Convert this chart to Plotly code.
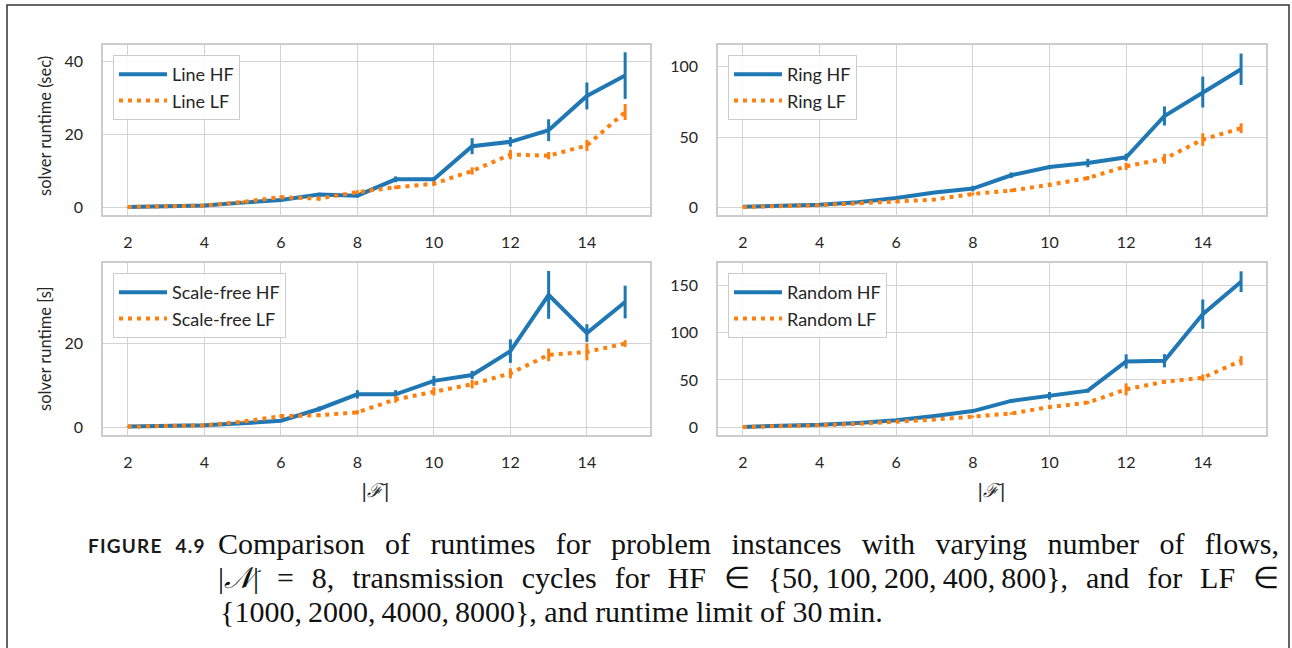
import plotly.graph_objects as go

flows = list(range(2, 16))
x_ticks = [2, 4, 6, 8, 10, 12, 14]

# Line topology
line_hf = [0.1, 0.3, 0.5, 1.3, 2.0, 3.5, 3.2, 7.7, 7.7, 16.8, 18.0, 21.2, 30.6, 36.2]
line_hf_err = [0.05, 0.1, 0.15, 0.3, 0.3, 0.5, 0.5, 0.8, 0.6, 2.2, 1.3, 3.0, 3.7, 6.4]
line_lf = [0.1, 0.3, 0.5, 1.5, 2.8, 2.4, 4.2, 5.5, 6.5, 10.0, 14.5, 14.2, 17.0, 26.2]
line_lf_err = [0.05, 0.1, 0.1, 0.3, 0.4, 0.5, 0.5, 0.5, 0.6, 1.0, 1.3, 1.0, 1.5, 2.2]

# Ring topology
ring_hf = [0.3, 1.0, 1.8, 3.5, 6.6, 10.5, 13.3, 22.8, 28.6, 31.5, 35.6, 65.0, 82.0, 98.2]
ring_hf_err = [0.1, 0.2, 0.3, 0.5, 0.8, 1.0, 2.0, 2.0, 1.5, 3.0, 2.5, 6.8, 11.0, 11.2]
ring_lf = [0.2, 0.6, 1.5, 2.8, 3.8, 5.5, 9.5, 11.9, 16.0, 20.8, 29.1, 34.5, 48.2, 56.3]
ring_lf_err = [0.1, 0.1, 0.3, 0.4, 0.5, 0.8, 1.0, 1.2, 1.5, 1.5, 2.5, 3.5, 4.5, 3.5]

# Scale-free topology
sf_hf = [0.1, 0.2, 0.4, 0.9, 1.5, 4.3, 7.8, 7.8, 11.0, 12.4, 18.1, 31.5, 22.4, 29.8]
sf_hf_err = [0.05, 0.05, 0.1, 0.2, 0.3, 0.6, 1.0, 1.0, 1.2, 1.0, 2.8, 5.7, 2.1, 3.9]
sf_lf = [0.1, 0.2, 0.4, 1.3, 2.6, 2.8, 3.5, 6.6, 8.5, 10.2, 12.8, 17.2, 17.9, 19.9]
sf_lf_err = [0.05, 0.05, 0.1, 0.2, 0.4, 0.4, 0.5, 0.8, 1.0, 1.0, 1.2, 1.5, 2.0, 0.8]

# Random topology
rnd_hf = [0.3, 1.0, 2.5, 4.5, 7.2, 11.8, 17.0, 27.8, 33.2, 38.6, 69.6, 70.3, 119.7, 154.0]
rnd_hf_err = [0.1, 0.2, 0.3, 0.5, 0.8, 1.0, 1.2, 2.0, 4.0, 2.0, 7.5, 7.0, 15.5, 11.0]
rnd_lf = [0.2, 0.8, 2.0, 3.5, 5.4, 8.0, 11.2, 14.4, 21.3, 26.0, 40.0, 48.0, 52.3, 70.3]
rnd_lf_err = [0.1, 0.1, 0.2, 0.3, 0.5, 0.6, 1.0, 1.2, 1.5, 1.5, 6.3, 2.0, 3.5, 5.0]

panels = [
    ("Line", line_hf, line_hf_err, line_lf, line_lf_err, [-2.1, 44.6], [0, 20, 40]),
    ("Ring", ring_hf, ring_hf_err, ring_lf, ring_lf_err, [-5.5, 115.5], [0, 50, 100]),
    ("Scale-free", sf_hf, sf_hf_err, sf_lf, sf_lf_err, [-1.9, 39.1], [0, 20]),
    ("Random", rnd_hf, rnd_hf_err, rnd_lf, rnd_lf_err, [-8.3, 173.8], [0, 50, 100, 150]),
]

W, H = 1292, 648
def px(x):
    return x / W
def py(y):
    return 1 - y / H

# panel pixel boxes (left, right, top, bottom)
boxes = [(103, 650, 45, 215), (718, 1266, 45, 215), (103, 650, 263, 435), (718, 1266, 263, 435)]

BLUE = "#1f77b4"
ORANGE = "#ff7f0e"
FONT = "Lato"
TXT = "#262626"

fig = go.Figure()
layout = dict(
    width=W, height=H, margin=dict(l=0, r=0, t=0, b=0),
    paper_bgcolor="white", plot_bgcolor="white", showlegend=True,
    font=dict(family=FONT, size=16, color=TXT),
)

for i, (name, hf, hfe, lf, lfe, yr, yt) in enumerate(panels):
    n = i + 1
    xa = "x" if n == 1 else f"x{n}"
    ya = "y" if n == 1 else f"y{n}"
    lg = "legend" if n == 1 else f"legend{n}"
    fig.add_trace(go.Scatter(
        x=flows, y=hf, name=f"{name} HF", mode="lines", xaxis=xa, yaxis=ya, legend=lg,
        legendgroup=f"{name}hf",
        line=dict(color=BLUE, width=4),
        error_y=dict(type="data", array=hfe, color=BLUE, thickness=3, width=0),
    ))
    fig.add_trace(go.Scatter(
        x=flows, y=lf, name=f"{name} LF", mode="lines", xaxis=xa, yaxis=ya, legend=lg,
        legendgroup=f"{name}lf",
        line=dict(color=ORANGE, width=4, dash="4px,5px"),
        error_y=dict(type="data", array=lfe, color=ORANGE, thickness=3, width=0),
    ))
    l, r, t, b = boxes[i]
    axkey_x = "xaxis" if n == 1 else f"xaxis{n}"
    axkey_y = "yaxis" if n == 1 else f"yaxis{n}"
    layout[axkey_x] = dict(
        domain=[px(l), px(r)], anchor=ya, range=[1.35, 15.65],
        tickvals=x_ticks, showgrid=True, gridcolor="#d3d3d3", gridwidth=1.4,
        zeroline=False, showline=True, linecolor="#cccccc", linewidth=1.6, mirror=True,
        ticks="outside", ticklen=12, tickcolor="rgba(0,0,0,0)",
        tickfont=dict(family=FONT, size=16, color=TXT),
    )
    layout[axkey_y] = dict(
        domain=[py(b), py(t)], anchor=xa, range=yr,
        tickvals=yt, showgrid=True, gridcolor="#d3d3d3", gridwidth=1.4,
        zeroline=False, showline=True, linecolor="#cccccc", linewidth=1.6, mirror=True,
        ticks="outside", ticklen=15, tickcolor="rgba(0,0,0,0)",
        tickfont=dict(family=FONT, size=16, color=TXT),
    )
    layout[lg] = dict(
        x=px(l + 10), y=py(t + 10), xanchor="left", yanchor="top",
        xref="paper", yref="paper",
        bgcolor="rgba(255,255,255,0.85)", bordercolor="#cccccc", borderwidth=1,
        font=dict(family=FONT, size=18, color=TXT),
        itemwidth=48, tracegroupgap=0,
    )

fig.update_layout(**layout)

SERIF = "Liberation Serif"
CS = 30
annotations = [
    dict(text="solver runtime (sec)", x=px(45), y=py(126), textangle=-90,
         font=dict(family=FONT, size=16.5, color=TXT)),
    dict(text="solver runtime [s]", x=px(45), y=py(349), textangle=-90,
         font=dict(family=FONT, size=16.5, color=TXT)),
    dict(text="|<i>ℱ</i>|", x=px(376), y=py(490),
         font=dict(family="DejaVu Serif", size=19, color=TXT)),
    dict(text="|<i>ℱ</i>|", x=px(991), y=py(490),
         font=dict(family="DejaVu Serif", size=19, color=TXT)),
    dict(text="<b>F\u200aI\u200aG\u200aU\u200aR\u200aE\u2002 4\u200a.\u200a9</b>", x=px(206), y=py(545),
         xanchor="right", font=dict(family=FONT, size=19, color="#1a1a1a")),
    dict(text="Comparison of runtimes for problem instances with varying number of flows,",
         x=px(218), y=py(543), xanchor="left",
         font=dict(family=SERIF, size=CS, color="#111111")),
    dict(text="|<i>𝒩</i>| = 8, transmission cycles for HF ∈ {50,\u2009100,\u2009200,\u2009400,\u2009800}, and for LF ∈",
         x=px(218), y=py(577), xanchor="left",
         font=dict(family=SERIF, size=CS, color="#111111")),
    dict(text="{1000,\u20092000,\u20094000,\u20098000}, and runtime limit of 30\u2009min.",
         x=px(218), y=py(611), xanchor="left",
         font=dict(family=SERIF, size=CS, color="#111111")),
]
for a in annotations:
    a.setdefault("xref", "paper")
    a.setdefault("yref", "paper")
    a.setdefault("showarrow", False)
    a.setdefault("yanchor", "middle")
    a.setdefault("xanchor", "center")
fig.update_layout(annotations=annotations)

fig.add_shape(type="rect", xref="paper", yref="paper",
              x0=px(7), x1=px(1289), y0=py(700), y1=py(5),
              line=dict(color="#333333", width=1.5), fillcolor="rgba(0,0,0,0)", layer="below")

# justify the first two caption lines (as LaTeX does) between x=218 and x=1279
post = """
document.body.style.margin='0';
document.body.style.overflow='hidden';
(function(){
  var gd = document.getElementById('{plot_id}');
  function justify(){
    var texts = gd.querySelectorAll('text.annotation-text');
    texts.forEach(function(t){
      var s = t.textContent || '';
      if (s.indexOf('Comparison') !== 0 && s.indexOf('transmission') < 0) return;
      var n = (s.match(/ /g) || []).length;
      t.style.wordSpacing = '0px';
      t.removeAttribute('transform');
      var r = t.getBoundingClientRect();
      var ws = (1279 - 218 - r.width) / n;
      if (ws < 0) ws = 0;
      t.style.wordSpacing = ws + 'px';
      var r2 = t.getBoundingClientRect();
      t.setAttribute('transform', 'translate(' + (218 - r2.left) + ',0)');
    });
  }
  try { justify(); } catch(e) {}
})();
"""
fig.write_html("out.html", config={"displayModeBar": False}, post_script=post)
